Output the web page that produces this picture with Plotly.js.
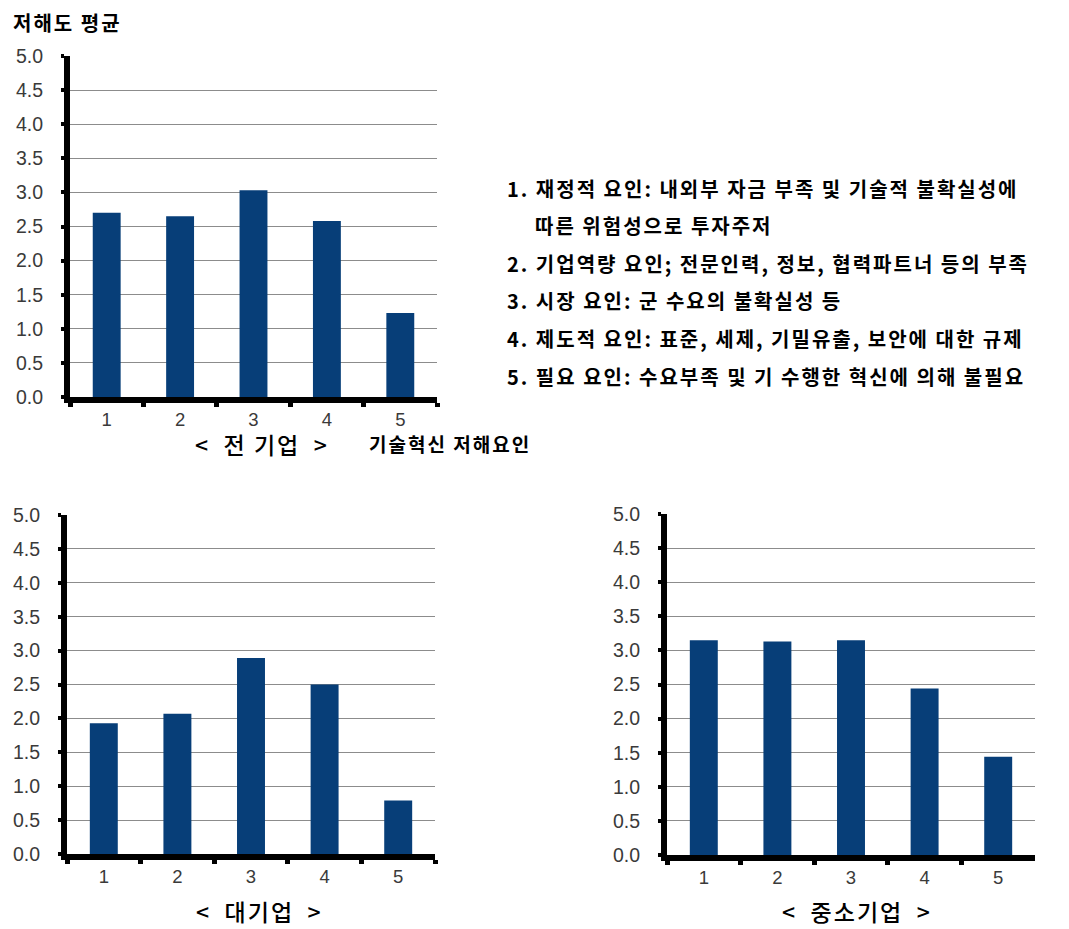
<!DOCTYPE html>
<html>
<head>
<meta charset="utf-8">
<script src="https://cdn.plot.ly/plotly-3.0.1.min.js"></script>
<style>
  html, body { margin: 0; padding: 0; background: #ffffff; }
  #chart { width: 1069px; height: 929px; }
  /* the Korean captions are set with a little extra tracking */
  .annotation-text { letter-spacing: 2px; }
</style>
</head>
<body>
<div id="chart"></div>
<script>
// Innovation-barrier factors (1-5) and mean barrier scores per firm group
const factors = ['1', '2', '3', '4', '5'];
const allFirms = [2.70, 2.65, 3.03, 2.58, 1.23];
const largeFirms = [1.93, 2.07, 2.89, 2.50, 0.79];
const smeFirms = [3.15, 3.13, 3.15, 2.44, 1.44];

const yTickVals = [0, 0.5, 1, 1.5, 2, 2.5, 3, 3.5, 4, 4.5, 5];

const panelTitles = ['<\u2002전 기업\u2002>', '<\u2002대기업\u2002>', '<\u2002중소기업\u2002>'];
const yAxisTitle = '저해도 평균';
const xAxisTitle = '기술혁신 저해요인';
const factorNotes = [
  '1. 재정적 요인: 내외부 자금 부족 및 기술적 불확실성에',
  '따른 위험성으로 투자주저',
  '2. 기업역량 요인; 전문인력, 정보, 협력파트너 등의 부족',
  '3. 시장 요인: 군 수요의 불확실성 등',
  '4. 제도적 요인: 표준, 세제, 기밀유출, 보안에 대한 규제',
  '5. 필요 요인: 수요부족 및 기 수행한 혁신에 의해 불필요'
];

const W = 1069, H = 929;
const px = x => x / W;
const py = y => 1 - y / H;

const BAR = '#073e78';
const KFONT = '"Noto Sans CJK KR", "Noto Sans", sans-serif';
const NFONT = '"Liberation Sans", Arial, sans-serif';

function barTrace(values, n) {
  const sfx = n === 1 ? '' : String(n);
  return {
    type: 'bar', x: factors, y: values,
    xaxis: 'x' + sfx, yaxis: 'y' + sfx,
    marker: { color: BAR, line: { width: 0 } },
    hoverinfo: 'x+y', showlegend: false
  };
}

function xAxis(domain, anchor) {
  return {
    domain: domain, anchor: anchor, type: 'category',
    categoryorder: 'array', categoryarray: factors,
    showline: true, linecolor: '#000', linewidth: 6,
    ticks: 'outside', tickson: 'boundaries', ticklen: 4, tickwidth: 5, tickcolor: '#000',
    ticklabelstandoff: 1,
    showgrid: false, zeroline: false,
    tickfont: { family: NFONT, size: 18.5, color: '#3a3a3a' },
    fixedrange: true
  };
}

function yAxis(domain, anchor) {
  return {
    domain: domain, anchor: anchor, range: [0, 5],
    tickmode: 'array', tickvals: yTickVals,
    ticktext: yTickVals.map(v => v.toFixed(1)),
    showline: true, linecolor: '#000', linewidth: 6,
    ticks: 'outside', ticklen: 3, tickwidth: 4, tickcolor: '#000',
    ticklabelstandoff: 14,
    showgrid: true, gridcolor: '#8c8c8c', gridwidth: 1,
    zeroline: false,
    tickfont: { family: NFONT, size: 19.5, color: '#3a3a3a' },
    fixedrange: true
  };
}

const data = [
  barTrace(allFirms, 1),
  barTrace(largeFirms, 2),
  barTrace(smeFirms, 3)
];

const annotations = [];
function addText(text, x, y, size, opts) {
  annotations.push(Object.assign({
    text: text, xref: 'paper', yref: 'paper', x: px(x), y: py(y),
    xanchor: 'left', yanchor: 'middle', showarrow: false,
    font: { family: KFONT, size: size, color: '#000' }
  }, opts || {}));
}

const titleFont = { family: KFONT, size: 23, color: '#000', weight: 500 };

addText('<b>' + yAxisTitle + '</b>', 11, 22, 20);
addText(panelTitles[0], 262, 444, 23, { xanchor: 'center', font: titleFont });
addText('<b>' + xAxisTitle + '</b>', 367, 443, 19);
addText(panelTitles[1], 259, 911, 23, { xanchor: 'center', font: titleFont });
addText(panelTitles[2], 857, 911, 23, { xanchor: 'center', font: titleFont });

const noteX = [505, 533, 505, 505, 505, 505];
const noteY = [188, 225, 263, 300, 338, 376];
factorNotes.forEach((t, i) => addText('<b>' + t + '</b>', noteX[i], noteY[i], 20));

const layout = {
  width: W, height: H,
  margin: { l: 0, r: 0, t: 0, b: 0 },
  paper_bgcolor: '#ffffff', plot_bgcolor: '#ffffff',
  bargap: 0.62,
  xaxis: xAxis([px(70), px(437)], 'y'),
  yaxis: yAxis([py(397), py(56)], 'x'),
  xaxis2: xAxis([px(67), px(435)], 'y2'),
  yaxis2: yAxis([py(854), py(515)], 'x2'),
  xaxis3: xAxis([px(667), px(1035)], 'y3'),
  yaxis3: yAxis([py(855), py(514)], 'x3'),
  annotations: annotations
};

Plotly.newPlot('chart', data, layout, { displayModeBar: false, staticPlot: true });
</script>
</body>
</html>
